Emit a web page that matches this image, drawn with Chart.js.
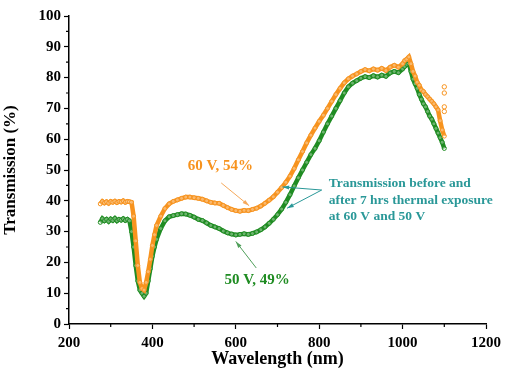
<!DOCTYPE html>
<html>
<head>
<meta charset="utf-8">
<script src="https://cdn.jsdelivr.net/npm/chart.js@4/dist/chart.umd.min.js"></script>
<style>
  body { margin: 0; background: #fff; }
  #wrap { width: 506px; height: 370px; }
</style>
</head>
<body>
<div id="wrap"><canvas id="transChart"></canvas></div>
<script>
// wavelength (nm)
const wavelengths = [275, 280, 285, 290, 295, 300, 305, 310, 315, 320, 325, 330, 335, 340, 345, 350,
  355, 360, 365, 370, 375, 380, 385, 390, 395, 400, 405, 410, 420, 430, 440, 450, 460, 470, 480, 490,
  500, 510, 520, 530, 540, 550, 560, 570, 580, 590, 600, 610, 620, 630, 640, 650, 660, 670, 680, 690,
  700, 710, 720, 730, 740, 750, 760, 770, 780, 790, 800, 810, 820, 830, 840, 850, 860, 870, 880, 890,
  900, 910, 920, 930, 940, 950, 960, 970, 980, 990, 1000, 1005, 1010, 1015, 1020, 1025, 1030, 1035,
  1040, 1045, 1050, 1055, 1060, 1065, 1070, 1075, 1080, 1085, 1090, 1095, 1100];

// 60 V transmission (%)
const trans60V = [39.0, 39.8, 39.3, 39.7, 39.2, 39.8, 39.5, 39.9, 39.4, 39.8, 39.6, 40.0, 39.5, 39.8, 39.7, 39.5,
  35.0, 27.0, 19.0, 13.5, 11.5, 11.0, 13.5, 17.0, 21.0, 25.5, 29.0, 32.0, 35.0, 37.5, 39.0, 39.8, 40.3, 40.8, 41.2, 41.2,
  41.0, 40.8, 40.5, 40.0, 39.5, 39.3, 39.2, 38.5, 37.8, 37.2, 36.8, 36.6, 36.9, 36.8, 37.2, 37.6, 38.3, 39.2, 40.2, 41.3,
  42.8, 44.3, 46.0, 48.0, 50.5, 53.3, 56.0, 58.8, 61.3, 63.6, 65.8, 67.8, 70.0, 72.3, 74.5, 76.5, 78.3, 79.6, 80.5, 81.2,
  82.0, 82.6, 82.2, 82.8, 82.4, 83.0, 82.3, 83.4, 84.0, 83.4, 84.5, 85.5, 86.0, 86.7, 84.5, 82.0, 80.5, 78.5,
  77.5, 76.0, 75.5, 74.5, 73.8, 73.0, 72.3, 71.5, 70.5, 69.5, 66.0, 63.0, 61.0];

// 50 V transmission (%)
const trans50V = [33.0, 34.2, 33.5, 34.0, 33.3, 34.1, 33.6, 34.3, 33.5, 34.0, 33.7, 34.2, 33.6, 34.0, 33.5, 30.0,
  25.0, 19.0, 14.0, 11.0, 10.0, 9.0, 10.0, 14.0, 18.0, 22.0, 25.0, 27.5, 31.0, 33.5, 34.8, 35.2, 35.5, 35.8, 35.7, 35.3,
  34.7, 34.0, 33.6, 32.8, 32.0, 31.5, 31.0, 30.2, 29.6, 29.2, 28.9, 29.1, 29.3, 29.1, 29.4, 29.9, 30.6, 31.5, 32.7, 34.0,
  35.5, 37.3, 39.5, 42.0, 44.8, 47.5, 50.0, 52.5, 55.0, 57.0, 59.5, 62.3, 65.0, 67.5, 70.0, 72.5, 75.0, 77.0, 78.2, 79.0,
  79.8, 80.3, 80.0, 80.6, 80.2, 80.8, 80.4, 81.5, 82.0, 81.6, 82.8, 83.6, 84.3, 84.6, 82.0, 79.5, 78.0, 76.5,
  74.5, 73.0, 71.5, 70.5, 69.0, 67.5, 66.5, 65.0, 63.5, 62.0, 60.5, 59.0, 57.0];

// stray 60 V points at the end of the scan
const stray60VX = [1100, 1100, 1100, 1100];
const stray60VY = [77.0, 75.0, 70.5, 69.0];

const xTicks = [200, 400, 600, 800, 1000, 1200];
const yTicks = [0, 10, 20, 30, 40, 50, 60, 70, 80, 90, 100];

const ORANGE = "#f7931e";
const GREEN = "#1f8c22";
const TEAL = "#2a9898";
const FONT = "'Liberation Serif', 'Times New Roman', serif";

const toPoints = (xs, ys) => xs.map((x, i) => ({ x: x, y: ys[i] }));

// text notes and arrows, placed in data coordinates
const notes = [
  { text: ["60 V, 54%"], x: 563, y: 51.3, color: ORANGE, size: 15, align: "center" },
  { text: ["50 V, 49%"], x: 651, y: 14.3, color: GREEN, size: 15, align: "center" },
  { text: ["Transmission before and", "after 7 hrs thermal exposure", "at 60 V and 50 V"],
    x: 823, y: 45.5, color: TEAL, size: 13.5, align: "left" },
];
const arrows = [
  { from: [565, 45.8], to: [632, 38.4], color: "#f5a85a" },
  { from: [649, 18.2], to: [600, 26.8], color: "#4f9f5a" },
  { from: [806, 43.5], to: [712, 44.5], color: TEAL },
  { from: [806, 43.5], to: [723, 37.6], color: TEAL },
];

const decorPlugin = {
  id: "decor",
  afterDraw(chart) {
    const ctx = chart.ctx;
    const xs = chart.scales.x, ys = chart.scales.y;
    ctx.save();
    // minor ticks
    ctx.strokeStyle = "#000";
    ctx.lineWidth = 1.2;
    ctx.beginPath();
    for (let v = 300; v < 1200; v += 200) {
      const px = xs.getPixelForValue(v);
      ctx.moveTo(px, ys.bottom);
      ctx.lineTo(px, ys.bottom + 3);
    }
    for (let v = 5; v < 100; v += 10) {
      const py = ys.getPixelForValue(v);
      ctx.moveTo(xs.left, py);
      ctx.lineTo(xs.left - 3, py);
    }
    ctx.stroke();

    // arrows
    arrows.forEach(a => {
      const x1 = xs.getPixelForValue(a.from[0]), y1 = ys.getPixelForValue(a.from[1]);
      const x2 = xs.getPixelForValue(a.to[0]), y2 = ys.getPixelForValue(a.to[1]);
      const ang = Math.atan2(y2 - y1, x2 - x1);
      ctx.strokeStyle = a.color;
      ctx.fillStyle = a.color;
      ctx.lineWidth = 1;
      ctx.beginPath();
      ctx.moveTo(x1, y1);
      ctx.lineTo(x2, y2);
      ctx.stroke();
      ctx.beginPath();
      ctx.moveTo(x2, y2);
      ctx.lineTo(x2 - 7 * Math.cos(ang - 0.3), y2 - 7 * Math.sin(ang - 0.3));
      ctx.lineTo(x2 - 7 * Math.cos(ang + 0.3), y2 - 7 * Math.sin(ang + 0.3));
      ctx.closePath();
      ctx.fill();
    });

    // notes
    notes.forEach(n => {
      ctx.font = "bold " + n.size + "px " + FONT;
      ctx.fillStyle = n.color;
      ctx.textAlign = n.align;
      ctx.textBaseline = "middle";
      const px = xs.getPixelForValue(n.x);
      const py = ys.getPixelForValue(n.y);
      n.text.forEach((line, i) => ctx.fillText(line, px, py + i * 16.5));
    });
    ctx.restore();
  },
};

function seriesStyle(color) {
  return {
    showLine: true,
    borderColor: color,
    borderWidth: 4.5,
    pointRadius: 2,
    pointBorderWidth: 1,
    pointBorderColor: color,
    pointBackgroundColor: "rgba(255,255,255,0.35)",
    tension: 0,
  };
}

new Chart(document.getElementById("transChart").getContext("2d"), {
  type: "scatter",
  data: {
    datasets: [
      Object.assign({ label: "60 V", data: toPoints(wavelengths, trans60V) }, seriesStyle(ORANGE)),
      Object.assign({ label: "50 V", data: toPoints(wavelengths, trans50V) }, seriesStyle(GREEN)),
      {
        label: "60 V stray",
        data: toPoints(stray60VX, stray60VY),
        showLine: false,
        pointRadius: 2.2,
        pointBorderWidth: 1,
        pointBorderColor: ORANGE,
        pointBackgroundColor: "rgba(255,255,255,0.7)",
      },
    ],
  },
  options: {
    responsive: true,
    maintainAspectRatio: false,
    animation: false,
    layout: { padding: { top: 16, right: 18, left: 0, bottom: 0 } },
    plugins: {
      legend: { display: false },
      tooltip: { enabled: false },
    },
    scales: {
      x: {
        type: "linear",
        min: 200,
        max: 1200,
        afterFit: s => { s.height = 46; },
        afterBuildTicks: s => { s.ticks = xTicks.map(v => ({ value: v })); },
        grid: { drawOnChartArea: false, drawTicks: true, tickLength: 5, color: "#000", tickWidth: 1.2 },
        border: { display: true, color: "#000", width: 1.5 },
        ticks: {
          color: "#000",
          padding: 5,
          callback: v => String(v),
          font: { family: FONT, size: 15, weight: "bold" },
        },
        title: {
          display: true,
          text: "Wavelength (nm)",
          color: "#000",
          padding: 0,
          font: { family: FONT, size: 18, weight: "bold" },
        },
      },
      y: {
        type: "linear",
        min: 0,
        max: 100,
        afterFit: s => { s.width = 69; },
        afterBuildTicks: s => { s.ticks = yTicks.map(v => ({ value: v })); },
        grid: { drawOnChartArea: false, drawTicks: true, tickLength: 5, color: "#000", tickWidth: 1.2 },
        border: { display: true, color: "#000", width: 1.5 },
        ticks: {
          color: "#000",
          padding: 3,
          callback: v => String(v),
          font: { family: FONT, size: 15, weight: "bold" },
        },
        title: {
          display: true,
          text: "Transmission (%)",
          color: "#000",
          padding: { top: 0, bottom: 4 },
          font: { family: FONT, size: 17, weight: "bold" },
        },
      },
    },
  },
  plugins: [decorPlugin],
});
</script>
</body>
</html>
